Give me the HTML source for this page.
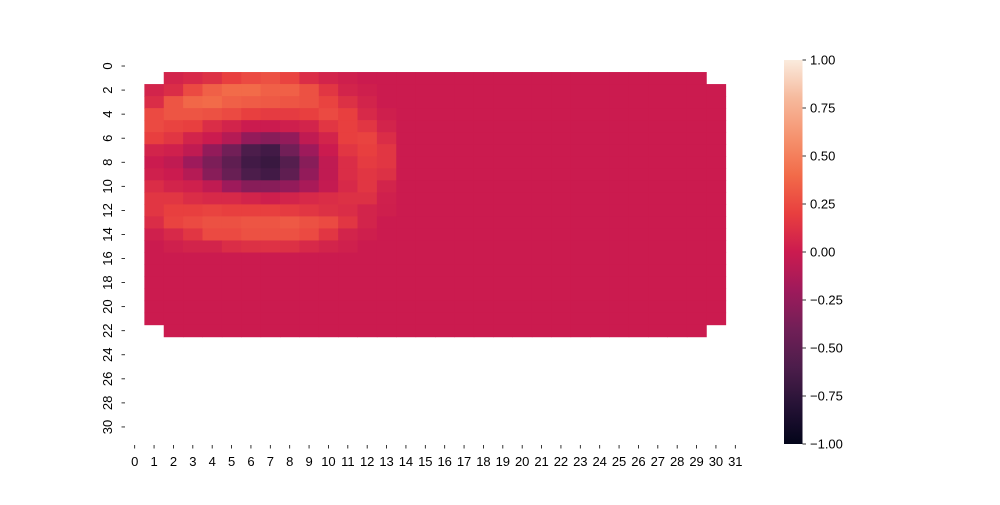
<!DOCTYPE html>
<html><head><meta charset="utf-8"><style>
body{margin:0;background:#fff;}
svg text{font-family:"Liberation Sans","DejaVu Sans",sans-serif;font-size:13px;fill:#000;}
</style></head><body>
<svg id="chart" width="1000" height="500" xmlns="http://www.w3.org/2000/svg">
<defs><linearGradient id="cbg" x1="0" y1="1" x2="0" y2="0"></linearGradient></defs>
<g id="cells"></g>
<g id="xt"></g>
<g id="yt"></g>
<g id="cb"></g>
</svg>
<script>
// sparse non-zero values: [row, startCol, values...]
const hotRows = [
 [1,2,.05,.08,.12,.2,.25,.28,.22,.1,.05,.02],
 [2,1,.05,.1,.25,.35,.4,.4,.35,.35,.28,.15,.05,.02],
 [3,1,.1,.3,.38,.4,.35,.33,.32,.3,.28,.22,.12,.05],
 [4,1,.25,.3,.3,.28,.25,.2,.18,.18,.2,.25,.2,.08,.02],
 [5,1,.25,.22,.2,.1,.05,0,0,.02,.05,.15,.2,.15,.05],
 [6,1,.2,.15,.05,0,-.1,-.25,-.3,-.25,-.05,.05,.2,.22,.1],
 [7,1,.05,.03,-.05,-.25,-.4,-.6,-.65,-.4,-.2,0,.15,.2,.15],
 [8,1,0,-.05,-.2,-.35,-.5,-.65,-.7,-.55,-.3,-.05,.1,.18,.15],
 [9,1,.03,0,-.1,-.3,-.45,-.6,-.65,-.5,-.25,-.05,.1,.15,.12],
 [10,1,.1,.05,.03,-.05,-.2,-.3,-.3,-.25,-.15,-.03,.08,.15,.05],
 [11,1,.15,.15,.1,.08,.08,.05,.02,.05,.08,.1,.12,.12,.03],
 [12,1,.15,.2,.2,.22,.2,.2,.2,.18,.15,.12,.1,.05,.02],
 [13,1,.1,.22,.25,.28,.28,.3,.3,.32,.28,.25,.15,.05],
 [14,1,.03,.08,.15,.25,.25,.28,.28,.28,.25,.15,.05,.02],
 [15,1,0,.03,.05,.05,.1,.12,.13,.12,.08,.05,.03]
];
const rowExtents = {1:[2,29],22:[2,29]}; // rows 2..21 span cols 1..30
const xTicks = Array.from({length:32},(_,i)=>i);
const yTicks = [0,2,4,6,8,10,12,14,16,18,20,22,24,26,28,30];
const cbTicks = [-1,-0.75,-0.5,-0.25,0,0.25,0.5,0.75,1];
const stops=[[0,[3,5,26]],[.1,[37,18,53]],[.2,[76,29,75]],[.3,[113,31,87]],[.4,[158,26,91]],[.5,[203,27,79]],[.6,[232,63,63]],[.7,[242,107,73]],[.8,[245,147,111]],[.9,[246,185,156]],[1,[250,235,221]]];
function cmap(v){let t=(v+1)/2;t=Math.max(0,Math.min(1,t));for(let i=1;i<stops.length;i++){if(t<=stops[i][0]){const a=stops[i-1],b=stops[i],f=(t-a[0])/(b[0]-a[0]);return 'rgb('+a[1].map((c,k)=>Math.round(c+(b[1][k]-c)*f)).join(',')+')';}}return 'rgb(250,235,221)';}
const X0=125,CW=620/32,Y0=60,CH=385/32;
const xs=c=>X0+c*CW, ys=r=>Y0+r*CH;
const grid=[];for(let r=0;r<32;r++){grid.push(new Array(32).fill(null));if(r>=1&&r<=22){let e=rowExtents[r]||[1,30];for(let c=e[0];c<=e[1];c++)grid[r][c]=0;}}
hotRows.forEach(h=>{const r=h[0],s=h[1];for(let i=2;i<h.length;i++){if(grid[r][s+i-2]!==null)grid[r][s+i-2]=h[i];}});
const NS='http://www.w3.org/2000/svg';
function mk(t,a,p){const e=document.createElementNS(NS,t);for(const k in a)e.setAttribute(k,a[k]);p.appendChild(e);return e;}
const cells=document.getElementById('cells');
for(let r=0;r<32;r++)for(let c=0;c<32;c++){if(grid[r][c]===null)continue;
 const e=mk('rect',{x:xs(c),y:ys(r),width:CW+0.5,height:CH+0.5,fill:cmap(grid[r][c])},cells);
 
 }
const xt=document.getElementById('xt');
xTicks.forEach(v=>{const x=xs(v)+CW/2;mk('line',{x1:x,x2:x,y1:445,y2:448.5,stroke:'#000','stroke-width':0.8},xt);
 const t=mk('text',{x:x,y:466,'text-anchor':'middle'},xt);t.textContent=v;
 
 });
const yt=document.getElementById('yt');
yTicks.forEach(v=>{const y=ys(v)+CH/2;mk('line',{x1:121.5,x2:125,y1:y,y2:y,stroke:'#000','stroke-width':0.8},yt);
 const t=mk('text',{x:0,y:0,'text-anchor':'middle',transform:`translate(112,${y}) rotate(-90)`},yt);t.textContent=v;
 
 });
const g=document.getElementById('cbg');
for(let i=0;i<=20;i++){const v=-1+i*0.1;mk('stop',{offset:(i/20),'stop-color':cmap(v)},g);}
const cb=document.getElementById('cb');
const cbTop=60,cbBot=444;const cy=v=>cbBot-(v+1)/2*(cbBot-cbTop);
const bar=mk('rect',{x:784,y:cbTop,width:18.5,height:cbBot-cbTop,fill:'url(#cbg)'},cb);


cbTicks.forEach(v=>{const y=cy(v);mk('line',{x1:802.5,x2:806,y1:y,y2:y,stroke:'#000','stroke-width':0.8},cb);
 const t=mk('text',{x:810,y:y+4.5},cb);t.textContent=(v<0?'\u2212':'')+Math.abs(v).toFixed(2);
 
 });
</script>
</body></html>
